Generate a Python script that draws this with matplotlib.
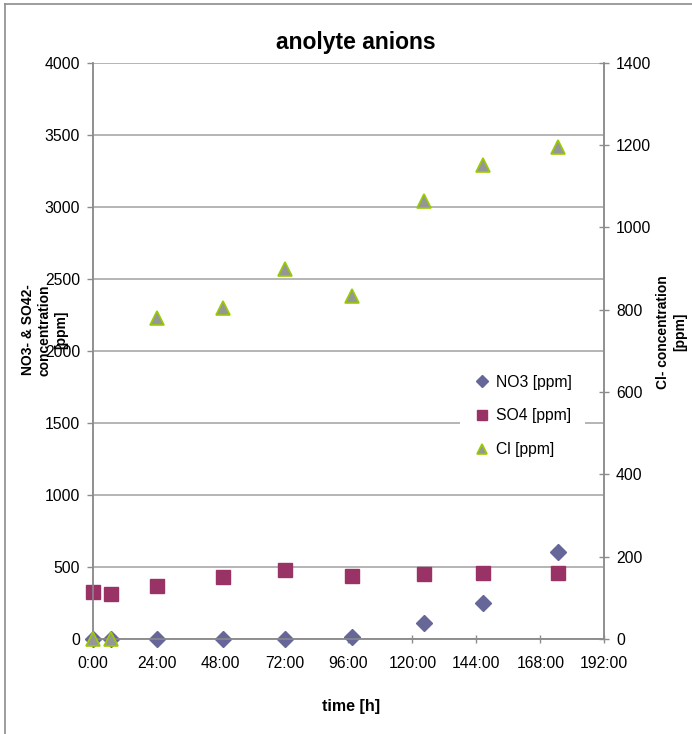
import matplotlib
matplotlib.use("Agg")
import matplotlib.pyplot as plt
from matplotlib.lines import Line2D
from matplotlib.ticker import FixedLocator, FuncFormatter

plt.rcParams["font.family"] = ["Liberation Sans", "DejaVu Sans"]

# Sampling times (hours after start)
time_h = [0, 7, 24, 48.75, 72, 97.5, 124.25, 146.5, 174.5]

# Anion concentrations [ppm]
no3_ppm = [0, 0, 0, 0, 0, 16, 108, 248, 606]
so4_ppm = [328, 310, 368, 428, 479, 437, 449, 456, 460]
cl_ppm = [0, 0, 781, 805, 899, 833, 1063, 1151, 1195]

series_labels = ["NO3 [ppm]", "SO4 [ppm]", "Cl [ppm]"]
x_ticks = list(range(0, 193, 24))
left_ticks = list(range(0, 4001, 500))
right_ticks = list(range(0, 1401, 200))

W, H = 692, 734
fig = plt.figure(figsize=(W / 100, H / 100), dpi=100)
fig.patch.set_facecolor("white")

x0, x1, y0, y1 = 92.7, 604.3, 639.0, 62.7
ax = fig.add_axes([x0 / W, 1 - y0 / H, (x1 - x0) / W, (y0 - y1) / H])
ax2 = ax.twinx()

axis_grey = "#8c8c8c"
grid_grey = "#a0a0a0"

for a in (ax, ax2):
    for s in a.spines.values():
        s.set_color(axis_grey)
        s.set_linewidth(1.1)
ax.spines["top"].set_visible(False)
ax2.spines["top"].set_visible(False)

ax.set_xlim(0, 192)
ax.set_ylim(0, 4000)
ax2.set_ylim(0, 1400)

ax.xaxis.set_major_locator(FixedLocator(x_ticks))
ax.xaxis.set_major_formatter(FuncFormatter(lambda v, p: f"{int(v)}:00"))
ax.yaxis.set_major_locator(FixedLocator(left_ticks))
ax2.yaxis.set_major_locator(FixedLocator(right_ticks))

ax.yaxis.grid(True, color=grid_grey, linewidth=1.1)
ax.set_axisbelow(True)

ax.tick_params(axis="x", direction="inout", length=6, width=1, color=axis_grey,
               labelsize=11.3, pad=9)
ax.tick_params(axis="y", direction="out", length=4, width=1, color=axis_grey,
               labelsize=11.3, pad=5)
ax2.tick_params(axis="y", direction="inout", length=7, width=1, color=axis_grey,
                labelsize=11.3, pad=5)

h_no3, = ax.plot(time_h, no3_ppm, linestyle="none", marker="D", markersize=8.6,
                 color="#666699", markeredgecolor="#666699", clip_on=False, zorder=3)
h_so4, = ax.plot(time_h, so4_ppm, linestyle="none", marker="s", markersize=9.6,
                 color="#993366", markeredgecolor="#993366", clip_on=False, zorder=3)
h_cl, = ax2.plot(time_h, cl_ppm, linestyle="none", marker="^", markersize=10.5,
                 markerfacecolor="#969696", markeredgecolor="#99cc00",
                 markeredgewidth=1.2, clip_on=False, zorder=3)

leg = ax2.legend([h_no3, h_so4, h_cl], series_labels,
                 loc="upper left", bbox_to_anchor=(460 / W, 1 - 362 / H),
                 bbox_transform=fig.transFigure, borderaxespad=0,
                 fontsize=11.3, frameon=True, framealpha=1, facecolor="white",
                 edgecolor="none", fancybox=False, borderpad=0.8,
                 handlelength=1.2, handletextpad=0.3, labelspacing=1.2)
for hnd in leg.legend_handles:
    hnd.set_markersize(hnd.get_markersize() * 0.72)

# Chart title and axis titles
fig.text(356 / W, 1 - 43 / H, "anolyte anions", ha="center", va="center",
         fontsize=16.5, fontweight="bold")
fig.text(44.5 / W, 1 - 330 / H, "NO3- & SO42-\nconcentration\n[ppm]",
         rotation=90, ha="center", va="center", multialignment="center",
         fontsize=10, fontweight="bold", linespacing=1.25)
fig.text(671.5 / W, 1 - 332 / H, "Cl- concentration\n[ppm]",
         rotation=90, ha="center", va="center", multialignment="center",
         fontsize=10, fontweight="bold", linespacing=1.3)
fig.text(351 / W, 1 - 706 / H, "time [h]", ha="center", va="center",
         fontsize=11.5, fontweight="bold")

# Chart area border (top and left edges)
fig.add_artist(Line2D([4.7 / W, 4.7 / W], [0, 1 - 4.3 / H], transform=fig.transFigure,
                      color=axis_grey, linewidth=1.2))
fig.add_artist(Line2D([4.7 / W, 1], [1 - 4.3 / H, 1 - 4.3 / H], transform=fig.transFigure,
                      color=axis_grey, linewidth=1.2))

fig.savefig("out.png", dpi=100, facecolor="white")
